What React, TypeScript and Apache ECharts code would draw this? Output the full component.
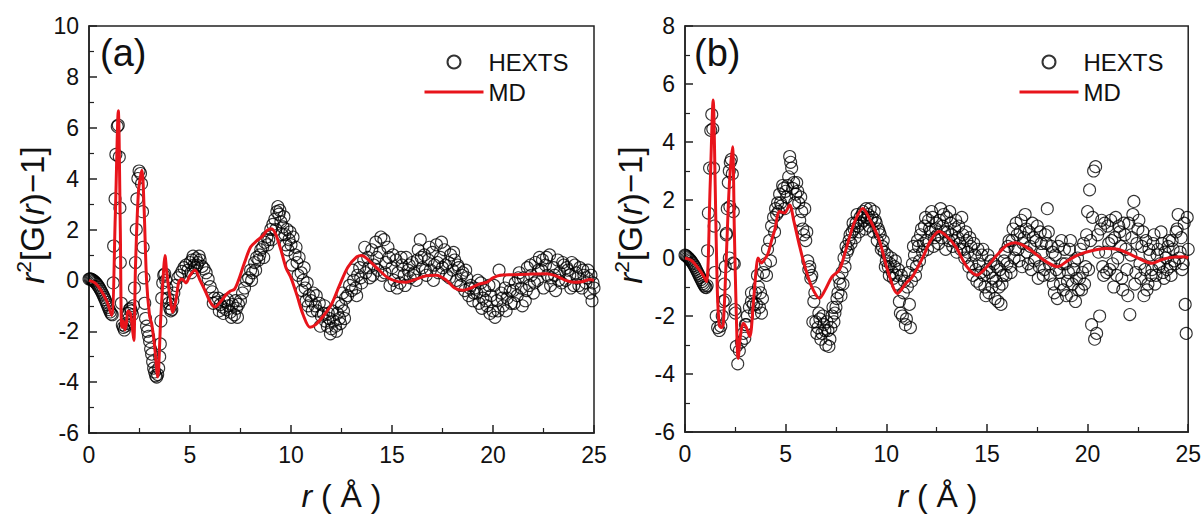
import React, { useEffect, useRef } from "react";
import * as echarts from "echarts";

// ---------- data: panel (a) ----------
const hextsA: [number, number][] = [
  [0,0.05],[0.05,0.06],[0.1,0.05],[0.15,0.03],[0.2,0],[0.25,-0.03],[0.3,-0.07],[0.35,-0.11],[0.4,-0.16],[0.45,-0.22],[0.5,-0.28],[0.55,-0.35],[0.6,-0.42],[0.65,-0.5],[0.7,-0.58],[0.75,-0.67],[0.8,-0.76],[0.85,-0.86],[0.9,-0.96],[0.95,-1.06],[1,-1.15],[1.05,-1.24],[1.1,-1.32],[1.15,-1.35],
  [1.2,-0.1],[1.22,1.35],[1.29,3.2],[1.33,4.95],[1.4,6.05],[1.45,6.1],[1.5,4.85],[1.53,2.85],[1.55,0.7],[1.6,-0.9],[1.65,-1.75],[1.7,-1.85],[1.75,-1.95],[1.8,-1.8],[1.85,-1.7],[1.9,-1.55],[1.95,-1.3],[2,-1.15],[2.05,-1.1],[2.1,-1.2],[2.15,-1.35],[2.2,-1.0],[2.25,-0.3],[2.3,0.7],[2.34,2.0],[2.37,3.2],[2.42,4.0],[2.48,4.3],[2.55,4.2],[2.6,3.8],[2.65,2.7],[2.68,1.3],[2.72,0.1],[2.76,-0.9],[2.8,-1.5],[2.85,-1.8],[2.9,-2.0],[2.95,-2.2],[3,-2.4],[3.05,-2.7],[3.1,-2.9],[3.15,-3.2],[3.2,-3.45],[3.25,-3.6],[3.3,-3.75],[3.35,-3.8],[3.4,-3.7],[3.45,-3.45],[3.5,-3.0],[3.53,-2.5],[3.56,-1.6],[3.6,-0.7],[3.65,-0.1],[3.7,0.2],[3.75,0.25],[3.8,0.0],[3.85,-0.3],[3.9,-0.7],[3.95,-0.9],[4,-1.1],[4.05,-1.2],[4.1,-1.15],[4.15,-0.8],[4.2,-0.5],[4.3,-0.2],[4.4,0.1],[4.5,0.2],[4.6,0.35],[4.7,0.5],[4.8,0.6],[4.9,0.4],[5,0.7],[5.1,0.8],[5.2,0.6],[5.3,0.85],[5.4,0.7],[5.5,0.8],[5.6,0.55],[5.7,0.45],[5.8,0.3],[5.9,0.05],[6,-0.25],[6.1,-0.45],[6.2,-0.7],[6.3,-0.85],[6.4,-0.7],[6.5,-0.95],[6.6,-1.05],[6.7,-0.8],[6.8,-1.15],[6.9,-1.0],[7,-1.25],[7.1,-0.95],[7.2,-1.35],[7.3,-1.1],[7.4,-0.95],[7.5,-0.8],[7.6,-0.5],[7.7,-0.3],[7.8,0.0],[7.9,0.1],[8,0.4],[8.1,0.3],[8.2,0.7],[8.3,0.9],[8.4,0.8],[8.5,1.2],[8.6,1.3],[8.7,1.5],[8.8,1.7],[8.9,1.6],[9,2.0],[9.1,2.2],[9.2,2.4],[9.3,2.7],[9.35,2.9],[9.4,2.6],[9.45,2.75],[9.5,2.3],[9.6,2.1],[9.7,1.8],[9.8,2.0],[9.9,1.6],[10,1.4],[10.1,1.7],[10.2,1.0],[10.3,0.7],[10.4,0.9],[10.5,0.3],[10.6,0.0],[10.7,-0.3],[10.8,-0.1],[10.9,-0.6],[11,-0.8],[11.1,-0.5],[11.2,-1.0],[11.3,-1.2],[11.4,-0.9],[11.5,-1.4],[11.6,-1.3],[11.7,-1.6],[11.8,-1.8],[11.9,-1.5],[12,-1.9],[12.1,-1.6],[12.2,-1.8],[12.3,-1.3],[12.4,-1.5],[12.5,-1.0],[12.6,-1.2],[12.7,-0.7],
  [5.05,0.3],[5.15,0.95],[5.25,0.5],[5.35,0.6],[5.45,0.95],[6.15,-0.9],[6.45,-1.2],[6.65,-1.3],[6.85,-0.75],[7.05,-1.45],[7.25,-0.8],[7.35,-1.45],[8.05,0.0],[8.25,0.4],[8.45,1.0],[8.65,0.9],[8.85,1.4],[9.05,1.6],[9.25,2.0],[9.55,1.8],[9.65,2.5],[9.75,1.4],[9.85,1.2],[9.95,1.9],[10.05,0.6],[10.25,1.3],[10.35,0.2],[10.55,-0.4],[10.65,0.5],[10.75,-0.8],[10.85,-1.0],[11.05,-1.2],[11.25,-0.6],[11.45,-1.8],[11.65,-1.0],[11.85,-1.3],[11.95,-2.1],[12.05,-1.2],[12.25,-2.0],[12.35,-0.9],[12.45,-1.7],[12.55,-0.5],[12.65,-1.5],
  [12.8,-0.6],[12.9,-0.2],[13,-0.4],[13.1,0],[13.2,-0.3],[13.3,0.2],[13.4,0.5],[13.5,-0.1],[13.6,0.8],[13.7,0.3],[13.8,0.9],[13.9,0.1],[14,1.2],[14.1,0.6],[14.2,1.5],[14.3,0.4],[14.4,1.1],[14.5,0.2],[14.6,1.6],[14.7,0.7],[14.8,1.3],[14.9,-0.2],[15,0.5],[15.1,0],[15.2,0.8],[15.3,0.3],[15.4,-0.1],[15.5,0.6],[15.6,0.2],[15.7,0.9],[15.8,0.4],[15.9,0.1],[16,0.7],[16.1,0.3],[16.2,0],[16.3,1.2],[16.4,1.6],[16.5,0.5],[16.6,1.0],[16.7,0.2],[16.8,0.8],[16.9,0.4],[17,1.1],[17.1,0.6],[17.2,1.4],[17.3,0.3],[17.4,0.9],[17.5,0.5],[17.6,1.2],[17.7,0.2],[17.8,0.7],[17.9,1.0],[18,0.4],[18.1,0.8],[18.2,0],[18.3,0.5],[18.4,-0.2],[18.5,0.3],[18.6,-0.4],[18.7,0.1],[18.8,-0.6],[18.9,-0.2],[19,-0.8],[19.1,-0.3],[19.2,-0.5],[19.3,-0.9],[19.4,-0.1],[19.5,-0.7],[19.6,-0.4],[19.7,-1.0],[19.8,-0.2],[19.9,-0.6],[20,-1.2],[20.1,-1.45],[20.2,-0.8],[20.3,0.4],[20.4,-0.5],[20.5,-1.0],[20.6,-0.3],[20.7,-0.7],[20.8,0],[20.9,-0.9],[21,-0.4],[21.1,-0.1],[21.2,-0.6],[21.3,0.3],[21.4,-0.3],[21.5,0.1],[21.6,-0.8],[21.7,0.5],[21.8,-0.2],[21.9,0.2],[22,-0.5],[22.1,0.7],[22.2,0],[22.3,0.9],[22.4,0.4],[22.5,-0.3],[22.6,0.6],[22.7,0.2],[22.8,1.0],[22.9,0.1],[23,0.5],[23.1,-0.4],[23.2,0.8],[23.3,0.3],[23.4,-0.1],[23.5,0.6],[23.6,0],[23.7,0.4],[23.8,0.2],[23.9,0.7],[24,-0.2],[24.1,0.3],[24.2,0.1],[24.3,0.5],[24.4,-0.3],[24.5,0.2],[24.6,-0.1],[24.7,0.4],[24.8,-0.5],[24.9,-0.8],[25,-0.3],
  [13.05,0.4],[13.25,-0.6],[13.45,0.1],[13.65,1.3],[13.85,0.5],[14.05,0.2],[14.25,0.9],[14.45,1.7],[14.65,0.3],[14.85,0.9],[15.05,1.0],[15.25,-0.3],[15.45,0.9],[15.65,-0.2],[15.85,0.6],[16.05,0.2],[16.25,0.8],[16.45,0.9],[16.65,0.4],[16.85,1.3],[17.05,0],[17.25,0.7],[17.45,1.5],[17.65,0.6],[17.85,0.1],[18.05,1.1],[18.25,0.6],[18.45,0.2],[18.65,0.4],[18.85,-0.3],[19.05,-0.5],[19.25,0],[19.45,-1.1],[19.65,-0.8],[19.85,-1.3],[20.05,-0.2],[20.25,-1.2],[20.45,-0.7],[20.65,-1.2],[20.85,-0.4],[21.05,-0.9],[21.25,0.1],[21.45,-1.0],[21.65,-0.4],[21.85,0.6],[22.05,-0.1],[22.25,0.4],[22.45,0.8],[22.65,0.9],[22.85,-0.2],[23.05,0.2],[23.25,0],[23.45,0.7],[23.65,0.5],[23.85,-0.3],[24.05,0.6],[24.25,-0.2],[24.45,0.4],[24.65,0.1],[24.85,0.2],[24.95,-0.1]
];

const mdA: [number, number][] = [
  [0,0],[0.3,-0.1],[0.6,-0.4],[0.9,-0.85],[1.12,-1.38],[1.3,2.5],[1.45,6.67],[1.55,2.0],[1.62,-1.84],[1.7,-1.6],[1.78,-1.95],[1.85,-1.7],[1.93,-1.2],[2.05,-1.3],[2.15,-1.9],[2.22,-2.36],[2.3,0.5],[2.45,3.5],[2.62,4.33],[2.72,3.0],[2.85,0.0],[3.0,-1.4],[3.1,-1.7],[3.25,-2.6],[3.4,-3.8],[3.55,-1.5],[3.7,0.5],[3.76,0.98],[3.85,0.3],[4.0,-0.6],[4.15,-1.25],[4.3,-0.8],[4.45,-0.05],[4.6,0.05],[4.8,-0.1],[5.0,0.2],[5.25,0.4],[5.5,0.0],[5.8,-0.5],[6.0,-0.85],[6.24,-1.05],[6.5,-0.85],[6.8,-0.55],[7.0,-0.42],[7.2,-0.35],[7.4,0.0],[7.7,0.7],[8.0,1.31],[8.3,1.55],[8.6,1.75],[8.8,1.95],[9.04,2.03],[9.25,1.8],[9.5,1.2],[9.75,0.5],[10.0,0.1],[10.3,-0.6],[10.6,-1.35],[10.94,-1.84],[11.2,-1.75],[11.6,-1.4],[12.0,-0.95],[12.4,-0.2],[12.8,0.5],[13.25,0.92],[13.5,0.98],[13.9,0.75],[14.3,0.45],[14.8,0.1],[15.3,-0.05],[15.7,-0.07],[16.2,0.05],[16.7,0.18],[17.2,0.2],[17.7,0.0],[18.1,-0.3],[18.5,-0.39],[18.9,-0.3],[19.3,-0.15],[19.7,-0.07],[20.0,0.1],[20.35,0.2],[21.0,0.22],[21.7,0.24],[22.66,0.26],[23.2,0.15],[23.6,0.0],[24.0,-0.07],[24.4,-0.05],[24.8,0.03],[25,0.0]
];

// ---------- data: panel (b) ----------
const hextsB: [number, number][] = [
  [0,0.1],[0.05,0.08],[0.1,0.05],[0.15,0.02],[0.2,-0.02],[0.25,-0.06],[0.3,-0.1],[0.35,-0.15],[0.4,-0.2],[0.45,-0.26],[0.5,-0.32],[0.55,-0.39],[0.6,-0.46],[0.65,-0.53],[0.7,-0.6],[0.75,-0.67],[0.8,-0.74],[0.85,-0.81],[0.9,-0.88],[0.95,-0.94],[1,-1.0],[1.05,-1.02],[1.1,-0.95],
  [1.12,0.25],[1.16,1.55],[1.22,3.1],[1.28,4.4],[1.33,4.95],[1.38,4.45],[1.42,3.1],[1.45,1.1],[1.48,-0.5],[1.55,-2.0],[1.62,-2.4],[1.7,-2.5],[1.78,-2.35],[1.85,-2.0],[1.9,-1.5],[1.95,-0.9],[2,-0.3],[2.05,0.8],[2.1,1.7],[2.15,2.6],[2.2,3.0],[2.25,3.3],[2.3,3.4],[2.35,2.9],[2.4,1.6],[2.45,-0.2],[2.5,-1.9],[2.55,-3.05],[2.62,-3.65],[2.7,-3.2],[2.8,-2.9],[2.9,-2.6],[3,-2.3],[3.1,-2.0],[3.2,-1.7],[3.3,-1.5],[3.4,-1.6],[3.5,-1.2],[3.6,-0.6],[3.65,-1.0],[3.7,-1.7],[3.8,-1.9],[3.85,-1.4],[3.9,-0.5],[4,-0.2],[4.1,0.3],[4.2,0.6],[4.3,1.1],[4.4,1.4],[4.5,1.7],[4.6,1.9],[4.7,2.2],[4.8,1.8],[4.9,2.4],[5,2.3],[5.1,2.5],[5.2,3.5],[5.25,3.3],[5.3,3.1],[5.4,2.6],[5.5,2.2],[5.6,2.3],[5.7,1.3],[5.8,1.6],[5.9,0.8],[6,0.6],[6.1,-0.1],[6.2,-0.3],[6.3,-0.6],[6.4,-1.5],[6.5,-2.2],[6.6,-2.4],[6.7,-2.1],[6.8,-2.6],[6.9,-2.3],[7,-3.0],[7.1,-2.5],[7.2,-2.8],[7.3,-2.0],[7.4,-2.2],[7.5,-1.7],[7.6,-1.2],[7.7,-0.9],[7.8,-0.5],[7.9,0],[8,0.4],[8.1,0.3],[8.2,0.8],[8.3,0.9],[8.4,1.0],[8.5,1.2],[8.6,1.1],[8.7,1.4],[8.8,1.5],[8.9,1.3],[9,1.7],[9.1,1.5],[9.2,1.7],[9.3,1.4],[9.4,1.6],[9.5,1.2],[9.6,1.0],[9.7,0.8],[9.8,0.4],[9.9,0.2],[10,-0.1],[10.1,-0.3],[10.2,-0.2],[10.3,-0.5],[10.4,-0.3],[10.5,-0.6],[10.6,-0.4],[10.7,-1.9],[10.8,-2.0],[10.9,-0.8],[11,-2.1],[11.1,-0.5],[11.2,-2.4],[11.3,-0.2],[11.4,0.1],[11.5,-0.3],[11.6,0.4],[11.7,0.8],[11.8,0.2],[11.9,1.1],[12,0.6],[12.1,1.3],[12.2,0.9],[12.3,1.4],[12.4,0.7],[12.5,1.2],[12.6,0.5],[12.7,1.7],[12.8,1.1],[12.9,0.9],[13,1.4],[13.1,0.6],[13.2,1.2],[13.3,0.4],[13.4,1.0],[13.5,0.2],
  [2.0,-1.45],[2.06,0.85],[2.2,0],[2.23,1.77],[2.39,-0.18],[2.48,-1.78],[2.97,-2.77],[3.05,-2.3],[3.3,-1.2],[3.45,-1.9],[3.55,-1.6],[3.75,-1.2],[4.05,-0.6],[4.25,-0.1],[4.45,0.9],[4.55,1.5],[4.65,1.6],[4.75,1.9],[4.85,2.5],[4.95,1.7],[5.05,2.1],[5.15,2.8],[5.35,2.4],[5.45,1.9],[5.55,2.6],[5.65,1.9],[5.75,2.1],[5.85,1.0],[5.95,1.7],[6.05,0.9],[6.15,-0.4],[6.25,-0.7],[6.35,-2.2],[6.45,-1.2],[6.55,-2.6],[6.65,-1.9],[6.75,-2.8],[6.85,-2.0],[6.95,-2.5],[7.05,-2.2],[7.15,-3.05],[7.25,-2.4],[7.35,-1.7],[7.45,-1.9],[7.55,-1.4],[7.65,-0.7],[7.75,-1.3],[7.85,-0.9],[7.95,-0.3],[8.05,0.2],[8.15,0.6],[8.25,0.5],[8.35,1.2],[8.45,0.7],[8.55,1.5],[8.65,0.9],[8.75,1.2],[8.85,1.6],[8.95,1.0],[9.05,1.4],[9.15,1.1],[9.25,1.3],[9.35,0.9],[9.45,1.3],[9.55,0.6],[9.65,0.9],[9.75,0.3],[9.85,0.6],[9.95,-0.3],[10.05,0.1],[10.15,-0.6],[10.25,0],[10.35,-0.7],[10.45,-0.1],[10.55,-0.9],[10.65,-1.5],[10.75,-0.6],[10.85,-1.2],[10.95,-2.3],[11.05,-1.0],[11.15,-1.6],[11.25,-0.8],[11.35,0.4],[11.45,-0.6],[11.55,0.6],[11.65,-0.1],[11.75,1.0],[11.85,0.5],[11.95,1.4],[12.05,0.3],[12.15,1.0],[12.25,1.6],[12.35,0.4],[12.45,1.0],[12.55,0.8],[12.65,1.3],[12.75,0.7],[12.85,1.5],[12.95,0.3],[13.05,0.9],[13.15,1.6],[13.25,0.8],[13.35,0.6],[13.45,1.3],[13.55,0.7],
  [13.6,1.1],[13.7,0.3],[13.8,0.8],[13.9,0],[14,0.6],[14.1,-0.3],[14.2,0.4],[14.3,-0.6],[14.4,0.1],[14.5,-0.8],[14.6,-0.2],[14.7,-0.5],[14.8,0.3],[14.9,-1.0],[15,-0.4],[15.1,-1.2],[15.2,-0.1],[15.3,-0.7],[15.4,-1.4],[15.5,-0.3],[15.6,-1.0],[15.7,-1.6],[15.8,-0.6],[15.9,0.2],[16,-0.2],[16.1,0.6],[16.2,-0.5],[16.3,1.0],[16.4,0.3],[16.5,0.8],[16.6,-0.1],[16.7,1.3],[16.8,0.5],[16.9,1.5],[17,0.2],[17.1,0.9],[17.2,-0.4],[17.3,0.7],[17.4,0],[17.5,1.1],[17.6,-0.3],[17.7,0.5],[17.8,-0.6],[17.9,0.8],[18,1.7],[18.1,-0.2],[18.2,0.4],[18.3,-0.9],[18.4,0.1],[18.5,-1.4],[18.6,-0.5],[18.7,0.6],[18.8,-1.1],[18.9,-0.2],[19,-0.8],[19.1,0.3],[19.2,-1.3],[19.3,-0.4],[19.4,-1.5],[19.5,0],[19.6,-0.7],[19.7,-1.1],[19.8,0.5],[19.9,-0.3],[20,1.6],[20.1,2.35],[20.2,-2.3],[20.3,3.0],[20.35,-2.8],[20.4,3.15],[20.45,-2.6],[20.5,0.8],[20.6,-2.0],[20.7,1.3],[20.8,-0.6],[20.9,0.2],[21,1.1],[21.1,-0.4],[21.2,0.6],[21.3,-1.0],[21.4,1.4],[21.5,0],[21.6,0.9],[21.7,-0.7],[21.8,1.2],[21.9,0.3],[22,-1.3],[22.1,-1.95],[22.2,0.7],[22.3,1.95],[22.4,-0.5],[22.5,1.0],[22.6,-0.2],[22.7,0.4],[22.8,-1.3],[22.9,0.6],[23,-0.9],[23.1,0.1],[23.2,-0.4],[23.3,0.8],[23.4,-0.6],[23.5,0.3],[23.6,-0.2],[23.7,0.5],[23.8,-0.7],[23.9,0],[24,0.4],[24.1,-0.3],[24.2,0.6],[24.3,-0.1],[24.4,0.9],[24.5,1.5],[24.6,0.2],[24.7,-0.4],[24.8,1.2],[24.85,-1.6],[24.9,-2.6],[25,0.3],
  [13.65,0.5],[13.75,1.4],[13.85,0.3],[13.95,0.9],[14.05,0.2],[14.15,0.7],[14.25,-0.2],[14.35,0.5],[14.45,-0.4],[14.55,0.3],[14.65,-0.9],[14.75,0.1],[14.85,-0.6],[14.95,-1.3],[15.05,0.1],[15.15,-0.5],[15.25,-1.0],[15.35,-0.2],[15.45,-0.8],[15.55,-1.5],[15.65,-0.4],[15.75,-0.9],[15.85,-0.1],[15.95,-0.6],[16.05,0.4],[16.15,-0.3],[16.25,0.6],[16.35,0],[16.45,1.2],[16.55,0.3],[16.65,0.9],[16.75,-0.3],[16.85,0.7],[16.95,1.0],[17.05,-0.2],[17.15,0.4],[17.25,1.2],[17.35,-0.1],[17.45,0.6],[17.55,-0.7],[17.65,0.9],[17.75,0.2],[17.85,-0.4],[17.95,0.5],[18.05,0.9],[18.15,-0.6],[18.25,0.2],[18.35,-1.2],[18.45,-0.4],[18.55,0.4],[18.65,-0.9],[18.75,-0.2],[18.85,0.3],[18.95,-1.3],[19.05,-0.5],[19.15,0.6],[19.25,-0.9],[19.35,-0.1],[19.45,-0.7],[19.55,-1.1],[19.65,0.3],[19.75,-0.5],[19.85,-0.9],[19.95,0.8],[20.05,-0.4],[20.15,0.6],[20.25,1.4],[20.55,0.2],[20.65,1.0],[20.75,-0.3],[20.85,1.2],[20.95,-0.5],[21.05,0.5],[21.15,1.3],[21.25,-0.2],[21.35,0.7],[21.45,-0.6],[21.55,1.1],[21.65,0.4],[21.75,-1.1],[21.85,0.8],[21.95,-0.4],[22.05,1.2],[22.15,0.1],[22.25,1.5],[22.35,-0.9],[22.45,0.5],[22.55,1.3],[22.65,-0.7],[22.75,0.9],[22.85,-0.4],[22.95,-1.1],[23.05,0.3],[23.15,-0.6],[23.25,0.5],[23.35,-0.9],[23.45,0.1],[23.55,-0.3],[23.65,0.9],[23.75,-0.5],[23.85,0.2],[23.95,-0.4],[24.05,0.6],[24.15,-0.6],[24.25,0.3],[24.35,-0.2],[24.45,1.0],[24.55,0],[24.65,0.7],[24.75,-0.2],[24.95,1.4]
];

const mdB: [number, number][] = [
  [0,0],[0.3,-0.08],[0.6,-0.3],[0.9,-0.6],[1.07,-0.82],[1.25,2.5],[1.4,5.45],[1.5,2.5],[1.6,-1.0],[1.7,-2.31],[1.8,-2.4],[1.9,-2.3],[2.05,0.0],[2.2,2.5],[2.36,3.84],[2.45,1.0],[2.55,-2.0],[2.64,-3.46],[2.75,-2.7],[2.89,-2.25],[3.05,-2.4],[3.22,-2.71],[3.4,-1.5],[3.55,-0.3],[3.63,0.0],[3.8,-0.17],[4.0,0.0],[4.13,0.16],[4.3,0.6],[4.46,0.97],[4.7,1.6],[4.95,1.55],[5.2,1.83],[5.4,1.3],[5.7,0.39],[6.0,-0.4],[6.3,-1.0],[6.68,-1.39],[7.0,-1.05],[7.3,-0.65],[7.67,-0.41],[8.0,0.3],[8.4,1.2],[8.83,1.71],[9.2,1.3],[9.65,0.62],[10.1,-0.5],[10.56,-1.22],[11.0,-0.85],[11.3,-0.64],[11.8,0.0],[12.2,0.6],[12.62,0.91],[13.0,0.75],[13.45,0.39],[14.0,-0.3],[14.5,-0.59],[15.0,-0.3],[15.5,0.1],[16.0,0.45],[16.4,0.53],[16.9,0.4],[17.5,0.1],[18.0,-0.15],[18.5,-0.3],[19.0,-0.1],[19.5,0.1],[20.2,0.25],[20.9,0.33],[21.5,0.3],[22.2,0.1],[22.8,-0.1],[23.2,-0.18],[23.7,-0.05],[24.3,0.03],[24.8,0.04],[25,0.0]
];

const xRange = { min: 0, max: 25, interval: 5 };
const yRangeA = { min: -6, max: 10, interval: 2 };
const yRangeB = { min: -6, max: 8, interval: 2 };
const seriesNames = ["HEXTS", "MD"];
const panelLabels = ["(a)", "(b)"];

const FONT = "'Liberation Sans', Arial, sans-serif";
const INK = "#111";
const RED = "#e8141b";

function axisCommon() {
  return {
    axisLine: { show: true, onZero: false, lineStyle: { color: "#222", width: 1.5 } },
    axisTick: { show: true, inside: true, length: 8, lineStyle: { color: "#222", width: 1.5 } },
    minorTick: { show: true, splitNumber: 2, length: 5, lineStyle: { color: "#222", width: 1.2 } },
    axisLabel: { fontSize: 23, color: INK, margin: 10, fontFamily: FONT },
    splitLine: { show: false },
  };
}
function xAxisFor(gridIndex: number) {
  return { gridIndex, type: "value", ...xRange, ...axisCommon() };
}
function yAxisFor(gridIndex: number, r: { min: number; max: number; interval: number }) {
  return { gridIndex, type: "value", ...r, ...axisCommon() };
}

function scatterFor(idx: number, data: [number, number][]) {
  return {
    type: "scatter", name: seriesNames[0], xAxisIndex: idx, yAxisIndex: idx, data,
    symbol: "circle", symbolSize: 12, silent: true,
    itemStyle: { color: "rgba(0,0,0,0)", borderColor: "#000", borderWidth: 1.1 },
  };
}
function lineFor(idx: number, data: [number, number][]) {
  return {
    type: "line", name: seriesNames[1], xAxisIndex: idx, yAxisIndex: idx, data,
    showSymbol: false, symbol: "none", smooth: 0.3, silent: true,
    lineStyle: { color: RED, width: 3 }, itemStyle: { color: RED },
  };
}
function legendAt(left: number) {
  return {
    left, top: 50, orient: "vertical", itemWidth: 59, itemHeight: 13, itemGap: 6,
    padding: 0, selectedMode: false,
    data: [
      { name: seriesNames[0] },
      { name: seriesNames[1], itemStyle: { opacity: 0 }, lineStyle: { color: RED, width: 3 } },
    ],
    textStyle: { fontSize: 24, color: INK, fontFamily: FONT },
  };
}

const richStyles = {
  i: { fontStyle: "italic", fontSize: 33, fontFamily: FONT, fill: INK, verticalAlign: "middle" },
  s: { fontSize: 21, fontFamily: FONT, fill: INK, verticalAlign: "middle", padding: [0, 0, 18, 0] },
  n: { fontSize: 33, fontFamily: FONT, fill: INK, verticalAlign: "middle" },
};

function yTitle(x: number) {
  return {
    type: "text", x, y: 215, rotation: Math.PI / 2,
    style: {
      text: "{i|r}{s|2}{n|[G(}{i|r}{n|)−1]}", rich: richStyles,
      fontSize: 33, fontFamily: FONT, fill: INK, align: "center", verticalAlign: "middle",
    },
  };
}
function xTitle(x: number) {
  return {
    type: "text", x, y: 496,
    style: {
      text: "{i|r}{n| ( Å )}",
      rich: { i: { ...richStyles.i, fontSize: 32 }, n: { ...richStyles.n, fontSize: 32 } },
      fontSize: 32, fontFamily: FONT, fill: INK, align: "center", verticalAlign: "middle",
    },
  };
}
function panelLabel(x: number, t: string) {
  return {
    type: "text", x, y: 53,
    style: { text: t, fontSize: 38, fontFamily: FONT, fill: INK, align: "left", verticalAlign: "middle" },
  };
}

export default function App() {
  const ref = useRef<HTMLDivElement>(null);
  useEffect(() => {
    const chart = echarts.init(ref.current!, null, { renderer: "svg" });
    chart.setOption({
      animation: false,
      backgroundColor: "#fff",
      grid: [
        { left: 89, top: 26, width: 505, height: 407, show: true, borderColor: "#222", borderWidth: 1.5, backgroundColor: "transparent" },
        { left: 685, top: 26, width: 505, height: 406, show: true, borderColor: "#222", borderWidth: 1.5, backgroundColor: "transparent" },
      ],
      xAxis: [xAxisFor(0), xAxisFor(1)],
      yAxis: [yAxisFor(0, yRangeA), yAxisFor(1, yRangeB)],
      legend: [legendAt(423), legendAt(1018)],
      series: [scatterFor(0, hextsA), lineFor(0, mdA), scatterFor(1, hextsB), lineFor(1, mdB)],
      graphic: [
        panelLabel(100, panelLabels[0]), panelLabel(694, panelLabels[1]),
        yTitle(32), yTitle(630),
        xTitle(341.5), xTitle(937.5),
      ],
    });
    return () => chart.dispose();
  }, []);
  return <div ref={ref} style={{ position: "fixed", left: 0, top: 0, width: 1204, height: 517 }} />;
}
